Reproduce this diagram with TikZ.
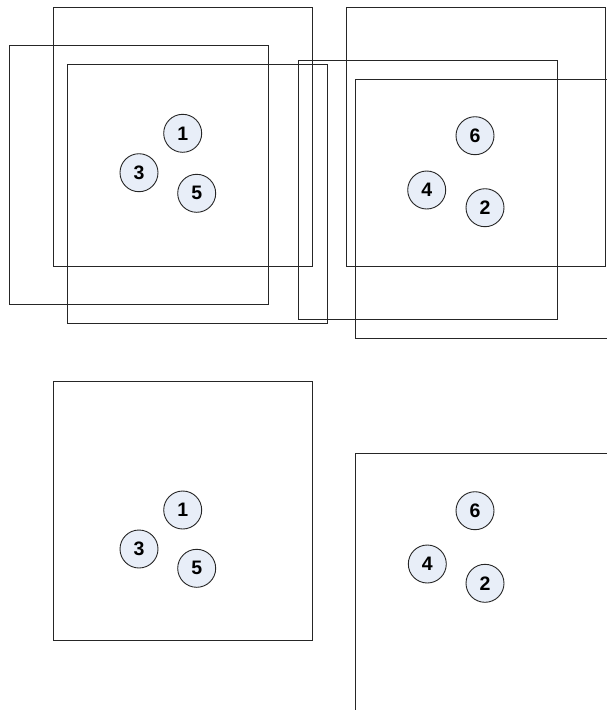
\documentclass[tikz,border=0pt]{standalone}
\usepackage{fontspec}
\setmainfont{Liberation Sans}
\definecolor{ballfill}{HTML}{E8EEF8}

\begin{document}
\begin{tikzpicture}[x=1pt, y=-1pt,
    frame/.style = {draw=black!85, line width=0.9pt},
    ball/.style = {circle, draw=black!85, fill=ballfill, line width=0.9pt,
        minimum size=38pt, inner sep=0pt, font=\bfseries\fontsize{19.5}{19.5}\selectfont}]
    % Page size
    \useasboundingbox (0,0) rectangle (607,710);
    \clip (0,0) rectangle (607,710);

    % Top left: three overlapping frames
    \draw[frame] (53,7) rectangle (312,266);
    \draw[frame] (9,45) rectangle (268,304);
    \draw[frame] (67,64) rectangle (327,323);
    % Top right: three overlapping frames
    \draw[frame] (346,7) rectangle (605,266);
    \draw[frame] (298,60) rectangle (557,319);
    \draw[frame] (355,79) rectangle (620,338);
    % Bottom frames
    \draw[frame] (53,381) rectangle (312,640);
    \draw[frame] (355,453) rectangle (620,720);

    % Top left balls
    \node[ball] (t1) at (182.7,133.3) {1};
    \node[ball] (t3) at (139,172.7) {3};
    \node[ball] (t5) at (196.7,193.3) {5};
    % Top right balls
    \node[ball] (t6) at (475,135.7) {6};
    \node[ball] (t4) at (426.7,190) {4};
    \node[ball] (t2) at (485,207.7) {2};

    % Bottom left balls
    \node[ball] (b1) at (182.7,510) {1};
    \node[ball] (b3) at (139,549) {3};
    \node[ball] (b5) at (196.7,568.3) {5};
    % Bottom right balls
    \node[ball] (b6) at (475,510.7) {6};
    \node[ball] (b4) at (427.3,564) {4};
    \node[ball] (b2) at (485,583.3) {2};
\end{tikzpicture}
\end{document}
